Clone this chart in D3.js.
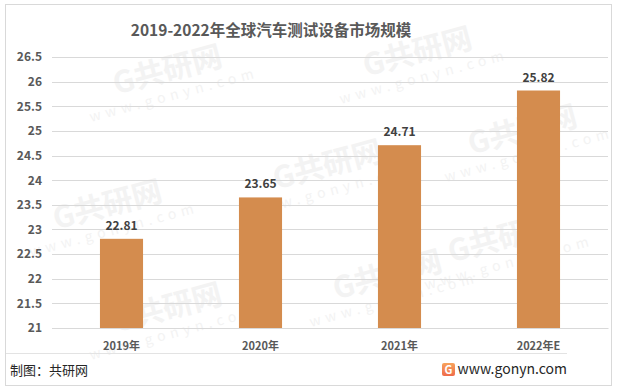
<!DOCTYPE html>
<html>
<head>
<meta charset="utf-8">
<script src="https://cdn.jsdelivr.net/npm/d3@7"></script>
<style>
  body { margin: 0; background: #fff; }
  svg text { font-family: "Microsoft YaHei", "Noto Sans CJK SC", "DejaVu Sans", sans-serif; }
</style>
</head>
<body>
<div id="chart"></div>
<script>
// chart data
const years = ['2019年', '2020年', '2021年', '2022年E'];
const values = [22.81, 23.65, 24.71, 25.82];
const yTicks = [21, 21.5, 22, 22.5, 23, 23.5, 24, 24.5, 25, 25.5, 26, 26.5];

function drawChart() {
  const width = 617;
  const height = 390;
  const plot = { left: 52, right: 608, top: 57, bottom: 328 };

  const svg = d3
    .select('#chart')
    .append('svg')
    .attr('width', width)
    .attr('height', height);

  // outer frame
  svg.append('rect')
    .attr('x', 5.5).attr('y', 4.5)
    .attr('width', 606).attr('height', 381)
    .attr('fill', '#fff')
    .attr('stroke', '#d9d9d9');

  // faint watermarks
  const marks = [[170, 80], [420, 62], [110, 215], [330, 175], [525, 140], [390, 285], [170, 318], [505, 248]];
  const wm = svg.append('g').attr('fill', '#f3f3f3');
  marks.forEach(([x, y]) => {
    const g = wm.append('g').attr('transform', `translate(${x},${y}) rotate(-15)`);
    g.append('text').attr('font-size', 30).attr('font-weight', 'bold')
      .attr('text-anchor', 'middle').text('G共研网');
    g.append('text').attr('y', 20).attr('font-size', 14)
      .attr('text-anchor', 'middle').attr('letter-spacing', 5).text('www.gonyn.com');
  });

  const x = d3.scaleBand()
    .domain(years)
    .range([plot.left, plot.right])
    .paddingInner(0.69)
    .paddingOuter(0.345);

  const y = d3.scaleLinear()
    .domain([21, 26.5])
    .range([plot.bottom, plot.top]);

  // gridlines
  svg.append('g')
    .selectAll('line')
    .data(yTicks)
    .enter()
    .append('line')
    .attr('x1', plot.left)
    .attr('x2', plot.right)
    .attr('y1', (d) => Math.round(y(d)) + 0.5)
    .attr('y2', (d) => Math.round(y(d)) + 0.5)
    .attr('stroke', '#d9d9d9');

  // y axis labels
  const yAxis = svg.append('g')
    .attr('transform', `translate(${plot.left},0)`)
    .call(d3.axisLeft(y).tickValues(yTicks).tickSize(0).tickPadding(10).tickFormat(d3.format('')));
  yAxis.select('.domain').remove();
  yAxis.selectAll('text')
    .attr('font-size', 12)
    .attr('font-weight', 'bold')
    .attr('fill', '#595959');

  // bars
  svg.selectAll('rect.bar')
    .data(values)
    .enter()
    .append('rect')
    .attr('class', 'bar')
    .attr('x', (_d, i) => x(years[i]))
    .attr('y', (d) => y(d))
    .attr('width', x.bandwidth())
    .attr('height', (d) => plot.bottom - y(d))
    .attr('fill', '#D48C4E');

  // value labels
  svg.selectAll('text.val')
    .data(values)
    .enter()
    .append('text')
    .attr('class', 'val')
    .attr('x', (_d, i) => x(years[i]) + x.bandwidth() / 2)
    .attr('y', (d) => y(d) - 9)
    .attr('text-anchor', 'middle')
    .attr('font-size', 12)
    .attr('font-weight', 'bold')
    .attr('fill', '#404040')
    .text((d) => d.toFixed(2));

  // x axis
  const xAxis = svg.append('g')
    .attr('transform', `translate(0,${plot.bottom})`)
    .call(d3.axisBottom(x).tickSize(0).tickPadding(14));
  xAxis.select('.domain').attr('stroke', '#d9d9d9');
  xAxis.selectAll('text')
    .attr('font-size', 11)
    .attr('font-weight', 'bold')
    .attr('fill', '#595959');

  // title
  svg.append('text')
    .attr('x', 271)
    .attr('y', 36)
    .attr('text-anchor', 'middle')
    .attr('font-size', 15.5)
    .attr('font-weight', 'bold')
    .attr('fill', '#595959')
    .text('2019-2022年全球汽车测试设备市场规模');

  // footer
  svg.append('line')
    .attr('x1', 6).attr('x2', 567)
    .attr('y1', 353.5).attr('y2', 353.5)
    .attr('stroke', '#e3e3e3');

  svg.append('text')
    .attr('x', 10).attr('y', 375)
    .attr('font-size', 13)
    .attr('fill', '#262626')
    .text('制图：共研网');

  const grad = svg.append('defs').append('linearGradient')
    .attr('id', 'lg').attr('x1', 0).attr('y1', 0).attr('x2', 0).attr('y2', 1);
  grad.append('stop').attr('offset', 0).attr('stop-color', '#f7a35c');
  grad.append('stop').attr('offset', 1).attr('stop-color', '#ef6b4a');
  svg.append('rect')
    .attr('x', 442).attr('y', 363).attr('width', 13).attr('height', 13)
    .attr('rx', 2).attr('fill', 'url(#lg)');
  svg.append('text')
    .attr('x', 448.5).attr('y', 374).attr('text-anchor', 'middle')
    .attr('font-size', 11).attr('font-weight', 'bold').attr('fill', '#fff')
    .text('G');

  svg.append('text')
    .attr('x', 567).attr('y', 374)
    .attr('text-anchor', 'end')
    .attr('font-size', 14)
    .attr('fill', '#262626')
    .text('www.gonyn.com');
}

document.addEventListener('DOMContentLoaded', drawChart);
</script>
</body>
</html>
